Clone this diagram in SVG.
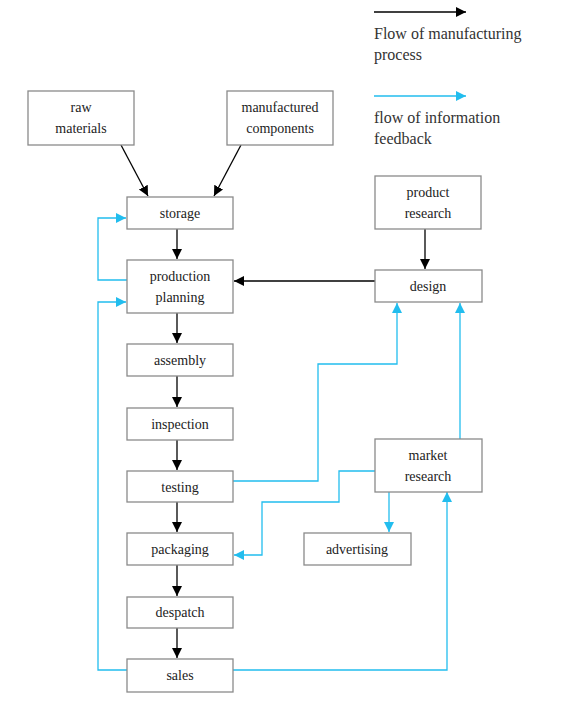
<svg xmlns="http://www.w3.org/2000/svg" width="566" height="704" viewBox="0 0 566 704">
<style>
.box{fill:#fff;stroke:#8a8a8a;stroke-width:1.3}
.t{font-family:"Liberation Serif","Times New Roman",serif;font-size:14px;fill:#222;text-anchor:middle}
.lg{font-family:"Liberation Serif","Times New Roman",serif;font-size:16px;fill:#333}
.k{fill:none;stroke:#000;stroke-width:1.3}
.c{fill:none;stroke:#22bdee;stroke-width:1.3}
</style>
<defs>
<marker id="ak" markerUnits="userSpaceOnUse" markerWidth="12" markerHeight="12" refX="10" refY="5" orient="auto">
<path d="M0,0 L10,5 L0,10 z" fill="#000"/>
</marker>
<marker id="ac" markerUnits="userSpaceOnUse" markerWidth="12" markerHeight="12" refX="10" refY="5" orient="auto">
<path d="M0,0 L10,5 L0,10 z" fill="#22bdee"/>
</marker>
</defs>
<g id="legend">
<line class="k" x1="374" y1="12" x2="466" y2="12" marker-end="url(#ak)"/>
<text class="lg" x="374" y="39">Flow of manufacturing</text>
<text class="lg" x="374" y="60">process</text>
<line class="c" x1="374" y1="96" x2="466" y2="96" marker-end="url(#ac)"/>
<text class="lg" x="374" y="123">flow of information</text>
<text class="lg" x="374" y="144">feedback</text>
</g>
<g id="connectors">
<line class="k" x1="121" y1="145" x2="148" y2="196" marker-end="url(#ak)"/>
<line class="k" x1="241" y1="145" x2="214" y2="196" marker-end="url(#ak)"/>
<line class="k" x1="177" y1="229" x2="177" y2="259" marker-end="url(#ak)"/>
<line class="k" x1="177" y1="313" x2="177" y2="343" marker-end="url(#ak)"/>
<line class="k" x1="177" y1="376" x2="177" y2="407" marker-end="url(#ak)"/>
<line class="k" x1="177" y1="440" x2="177" y2="470" marker-end="url(#ak)"/>
<line class="k" x1="177" y1="502" x2="177" y2="532" marker-end="url(#ak)"/>
<line class="k" x1="177" y1="565" x2="177" y2="596" marker-end="url(#ak)"/>
<line class="k" x1="177" y1="628" x2="177" y2="658" marker-end="url(#ak)"/>
<line class="k" x1="425" y1="229" x2="425" y2="269" marker-end="url(#ak)"/>
<line class="k" x1="375" y1="281" x2="234" y2="281" marker-end="url(#ak)"/>
<polyline class="c" points="127,280 98,280 98,218 126,218" marker-end="url(#ac)"/>
<polyline class="c" points="127,670 98,670 98,302 126,302" marker-end="url(#ac)"/>
<polyline class="c" points="233,481 318,481 318,364 397,364 397,303" marker-end="url(#ac)"/>
<polyline class="c" points="460,439 460,303" marker-end="url(#ac)"/>
<polyline class="c" points="375,471 339,471 339,502 262,502 262,555 234,555" marker-end="url(#ac)"/>
<line class="c" x1="389" y1="492" x2="389" y2="532" marker-end="url(#ac)"/>
<polyline class="c" points="233,670 447,670 447,492" marker-end="url(#ac)"/>
</g>
<g id="raw-materials"><rect class="box" x="28" y="91" width="106" height="54"/><text class="t" x="81" y="112">raw</text><text class="t" x="81" y="133">materials</text></g>
<g id="manufactured-components"><rect class="box" x="227" y="91" width="106" height="54"/><text class="t" x="280" y="112">manufactured</text><text class="t" x="280" y="133">components</text></g>
<g id="storage"><rect class="box" x="127" y="197" width="106" height="32"/><text class="t" x="180" y="218">storage</text></g>
<g id="production-planning"><rect class="box" x="127" y="260" width="106" height="53"/><text class="t" x="180" y="281">production</text><text class="t" x="180" y="302">planning</text></g>
<g id="assembly"><rect class="box" x="127" y="344" width="106" height="32"/><text class="t" x="180" y="365">assembly</text></g>
<g id="inspection"><rect class="box" x="127" y="408" width="106" height="32"/><text class="t" x="180" y="429">inspection</text></g>
<g id="testing"><rect class="box" x="127" y="471" width="106" height="31"/><text class="t" x="180" y="492">testing</text></g>
<g id="packaging"><rect class="box" x="127" y="533" width="106" height="32"/><text class="t" x="180" y="554">packaging</text></g>
<g id="despatch"><rect class="box" x="127" y="597" width="106" height="31"/><text class="t" x="180" y="617">despatch</text></g>
<g id="sales"><rect class="box" x="127" y="659" width="106" height="33"/><text class="t" x="180" y="680">sales</text></g>
<g id="product-research"><rect class="box" x="375" y="176" width="106" height="53"/><text class="t" x="428" y="197">product</text><text class="t" x="428" y="218">research</text></g>
<g id="design"><rect class="box" x="375" y="270" width="107" height="32"/><text class="t" x="428" y="291">design</text></g>
<g id="market-research"><rect class="box" x="375" y="439" width="107" height="53"/><text class="t" x="428" y="460">market</text><text class="t" x="428" y="481">research</text></g>
<g id="advertising"><rect class="box" x="304" y="533" width="107" height="32"/><text class="t" x="357" y="554">advertising</text></g>
</svg>
